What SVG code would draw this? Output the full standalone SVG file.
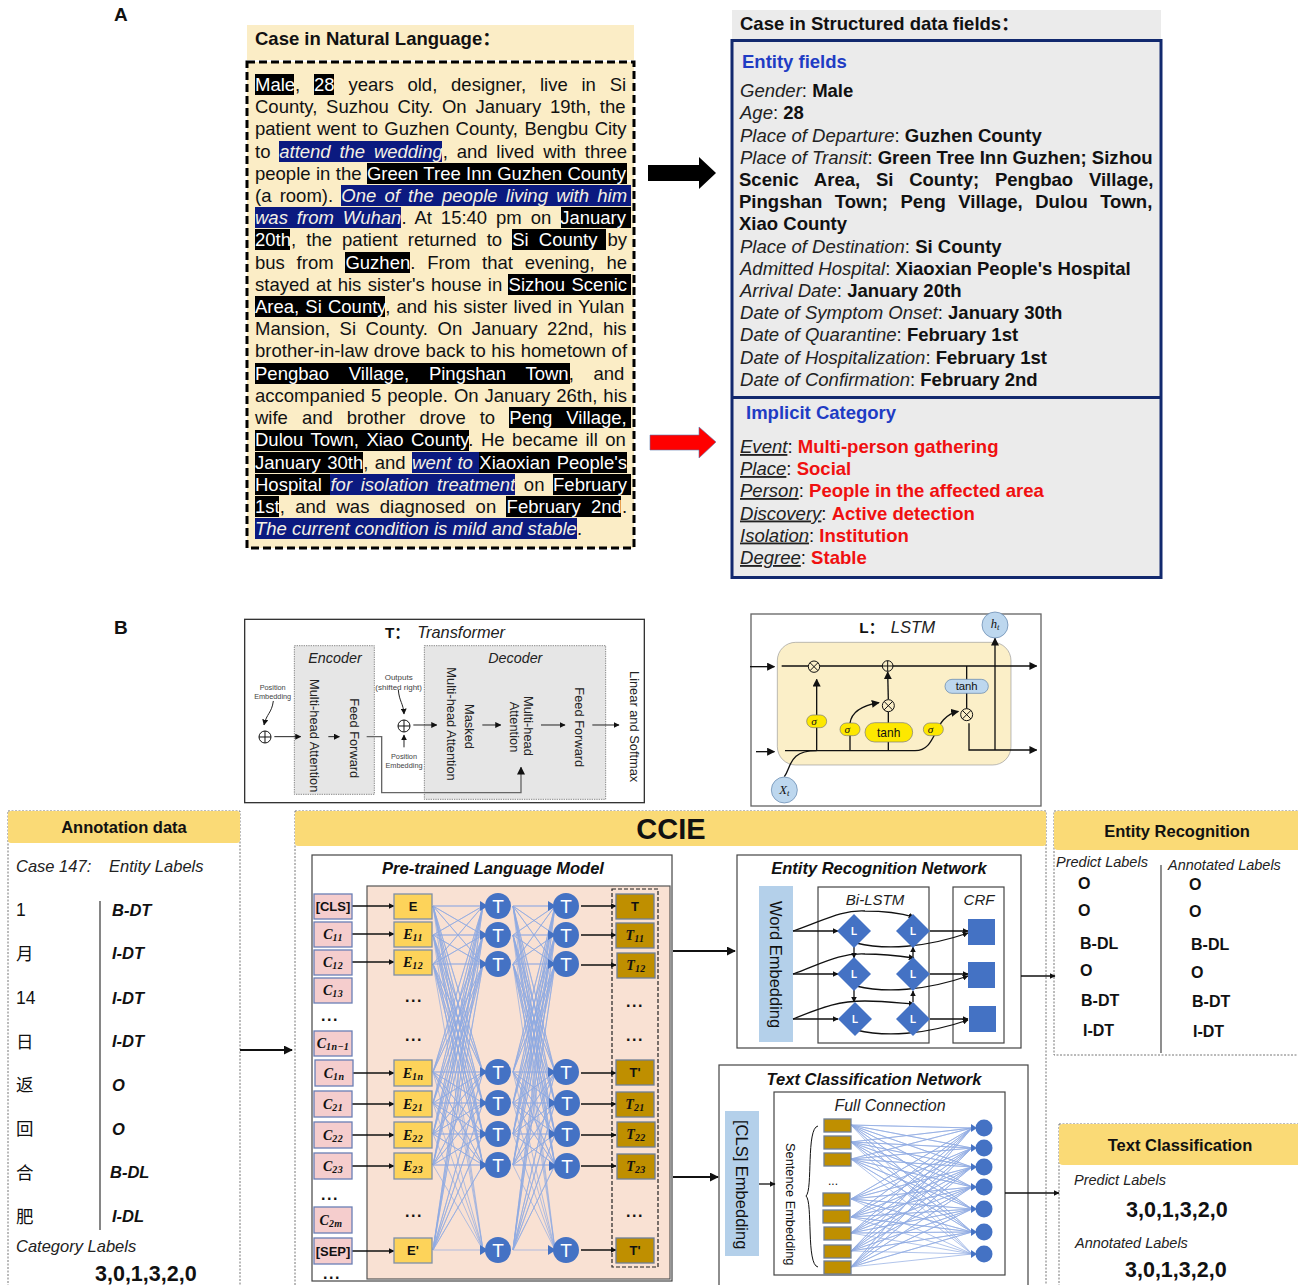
<svg xmlns="http://www.w3.org/2000/svg" width="1298" height="1285" viewBox="0 0 1298 1285">
<style>
text{font-family:"Liberation Sans","Noto Sans CJK SC",sans-serif;fill:#111}
.p{font-size:18.5px}
.w{fill:#fff}
.wi{fill:#f4f0e4;font-style:italic}
.f{font-size:18.55px}
.i{font-style:italic;fill:#222}
.b{font-weight:700}
.r{fill:#f01010;font-weight:700}
.bl{fill:#1f3cc4;font-weight:700;font-size:18.5px}
.hd{font-weight:700;font-size:16.5px;text-anchor:middle}
.tt{font-weight:700;font-style:italic;font-size:16.5px;text-anchor:middle}
.hl{fill:#000}
.hb{fill:#0b1a80}
.hdr{fill:#fada76}
.dash{fill:none;stroke:#777;stroke-width:1;stroke-dasharray:2 1.5}
.box{fill:#fff;stroke:#444;stroke-width:1.2}
.c{fill:#f5cdcd;stroke:#6a7fb5;stroke-width:1.3}
.e{fill:#fdd35a;stroke:#7f8fa8;stroke-width:1.3}
.o{fill:#bf8f00;stroke:#6f7f96;stroke-width:1.3}
.m{font-family:"Liberation Serif",serif;font-weight:700;font-style:italic;font-size:14px;text-anchor:middle}
.s{font-size:10px;baseline-shift:-2px;letter-spacing:.4px}
.n{font-size:13px;font-weight:700;text-anchor:middle}
.dots{font-size:16px;font-weight:700;text-anchor:middle;letter-spacing:1.5px}
.tc{fill:#4472c4}
.tl{fill:#fff;font-size:19px;text-anchor:middle}
.fan{fill:none;stroke:#8fabe2;stroke-width:.7;vector-effect:non-scaling-stroke}
.ln{fill:none;stroke:#111;stroke-width:1.3;marker-end:url(#a)}
.lab{font-size:16.5px;font-weight:700;font-style:italic}
.rl{font-size:16px;font-weight:700}
.pl{font-size:14.5px;font-style:italic;fill:#222}
.num{font-size:21.5px;font-weight:700}
.st{font-size:38.5px;dominant-baseline:central;fill:#222}
.sm{font-size:22px;text-anchor:middle;fill:#444}
.lb{fill:none;stroke:#111;stroke-width:4}
.la{fill:none;stroke:#111;stroke-width:4;marker-end:url(#a2)}
.k{fill:none;stroke:#222;stroke-width:3;marker-end:url(#a2)}
.ye{fill:#fde800;stroke:#777;stroke-width:2}
.blu{fill:#bdd7ee;stroke:#5b7fa8;stroke-width:2}
.dm{fill:#4472c4}
.dl{fill:#fff;font-size:10px;font-weight:700;text-anchor:middle}
.ser{font-family:"Liberation Serif",serif;font-style:italic;text-anchor:middle}
</style>
<defs>
<marker id="a" viewBox="0 0 10 10" refX="9" refY="5" markerWidth="4.500" markerHeight="4.500" orient="auto"><path d="M0 0L10 5L0 10Z" fill="#111"/></marker>
<marker id="a2" viewBox="0 0 10 10" refX="9" refY="5" markerWidth="6" markerHeight="6" orient="auto"><path d="M0 0L10 5L0 10Z" fill="#111"/></marker>
<path id="fan1" class="fan" d="M0 906L50 906 0 906 50 935 0 906 50 964 0 906 50 1072 0 906 50 1103 0 906 50 1134 0 906 50 1165 0 906 50 1250M0 935L50 906 0 935 50 935 0 935 50 964 0 935 50 1072 0 935 50 1103 0 935 50 1134 0 935 50 1165 0 935 50 1250M0 964L50 906 0 964 50 935 0 964 50 964 0 964 50 1072 0 964 50 1103 0 964 50 1134 0 964 50 1165 0 964 50 1250M0 1072L50 906 0 1072 50 935 0 1072 50 964 0 1072 50 1072 0 1072 50 1103 0 1072 50 1134 0 1072 50 1165 0 1072 50 1250M0 1103L50 906 0 1103 50 935 0 1103 50 964 0 1103 50 1072 0 1103 50 1103 0 1103 50 1134 0 1103 50 1165 0 1103 50 1250M0 1134L50 906 0 1134 50 935 0 1134 50 964 0 1134 50 1072 0 1134 50 1103 0 1134 50 1134 0 1134 50 1165 0 1134 50 1250M0 1165L50 906 0 1165 50 935 0 1165 50 964 0 1165 50 1072 0 1165 50 1103 0 1165 50 1134 0 1165 50 1165 0 1165 50 1250M0 1250L50 906 0 1250 50 935 0 1250 50 964 0 1250 50 1072 0 1250 50 1103 0 1250 50 1134 0 1250 50 1165 0 1250 50 1250"/>
</defs>
<rect width="1298" height="1285" fill="#fff"/>

<g id="label-a"><text x="114" y="21" class="b" font-size="19">A</text></g>
<g id="label-b"><text x="114" y="634" class="b" font-size="19">B</text></g>

<g id="natural-language-case">
<rect x="247" y="25" width="387" height="35" fill="#fbedc6"/>
<text x="255" y="45" class="b" font-size="18.5">Case in Natural Language：</text>
<rect x="247" y="62" width="387" height="486" fill="#fbedc6" stroke="#000" stroke-width="3" stroke-dasharray="8 4"/>
<g>
<rect class="hl" x="255" y="74" width="39" height="21"/><rect class="hl" x="314" y="74" width="20" height="21"/>
<rect class="hb" x="279" y="141" width="163" height="21"/>
<rect class="hl" x="367" y="163" width="260" height="21"/>
<rect class="hb" x="341" y="185" width="290" height="21"/>
<rect class="hb" x="255" y="207" width="146" height="21"/><rect class="hl" x="561" y="207" width="70" height="21"/>
<rect class="hl" x="255" y="229" width="35" height="21"/><rect class="hl" x="512" y="229" width="94" height="21"/>
<rect class="hl" x="345" y="252" width="65" height="21"/>
<rect class="hl" x="508" y="274" width="123" height="21"/>
<rect class="hl" x="255" y="296" width="130" height="21"/>
<rect class="hl" x="255" y="363" width="315" height="21"/>
<rect class="hl" x="509" y="407" width="122" height="21"/>
<rect class="hl" x="255" y="430" width="214" height="21"/>
<rect class="hl" x="255" y="452" width="108" height="21"/><rect class="hb" x="412" y="452" width="67" height="21"/><rect class="hl" x="479" y="452" width="148" height="21"/>
<rect class="hl" x="255" y="474" width="75" height="21"/><rect class="hb" x="330" y="474" width="185" height="21"/><rect class="hl" x="553" y="474" width="78" height="21"/>
<rect class="hl" x="255" y="496" width="24" height="21"/><rect class="hl" x="506" y="496" width="115" height="21"/>
<rect class="hb" x="255" y="518" width="322" height="21"/>
</g>
<text class="p" x="255" y="91" word-spacing="8.65"><tspan class="w">Male</tspan>, <tspan class="w">28</tspan> years old, designer, live in Si</text>
<text class="p" x="255" y="113" word-spacing="3.6">County, Suzhou City. On January 19th, the</text>
<text class="p" x="255" y="135" word-spacing="1.3">patient went to Guzhen County, Bengbu City</text>
<text class="p" x="255" y="158" word-spacing="3.63">to <tspan class="wi">attend the wedding</tspan>, and lived with three</text>
<text class="p" x="255" y="180" word-spacing=".26">people in the <tspan class="w">Green Tree Inn Guzhen County</tspan></text>
<text class="p" x="255" y="202" word-spacing="3.06">(a room). <tspan class="wi">One of the people living with him</tspan></text>
<text class="p" x="255" y="224" word-spacing="3.79"><tspan class="wi">was from Wuhan</tspan>. At 15:40 pm on <tspan class="w">January</tspan></text>
<text class="p" x="255" y="246" word-spacing="4.96"><tspan class="w">20th</tspan>, the patient returned to <tspan class="w">Si County</tspan> by</text>
<text class="p" x="255" y="269" word-spacing="6.65">bus from <tspan class="w">Guzhen</tspan>. From that evening, he</text>
<text class="p" x="255" y="291" word-spacing="1.23">stayed at his sister's house in <tspan class="w">Sizhou Scenic</tspan></text>
<text class="p" x="255" y="313" word-spacing="1"><tspan class="w">Area, Si County</tspan>, and his sister lived in Yulan</text>
<text class="p" x="255" y="335" word-spacing="4.4">Mansion, Si County. On January 22nd, his</text>
<text class="p" x="255" y="357" word-spacing=".48">brother-in-law drove back to his hometown of</text>
<text class="p" x="255" y="380" word-spacing="14.6"><tspan class="w">Pengbao Village, Pingshan Town</tspan>, and</text>
<text class="p" x="255" y="402" word-spacing=".81">accompanied 5 people. On January 26th, his</text>
<text class="p" x="255" y="424" word-spacing="8.87">wife and brother drove to <tspan class="w">Peng Village,</tspan></text>
<text class="p" x="255" y="446" word-spacing="2.4"><tspan class="w">Dulou Town, Xiao County</tspan>. He became ill on</text>
<text class="p" x="255" y="469" word-spacing="1.25"><tspan class="w">January 30th</tspan>, and <tspan class="wi">went to</tspan> <tspan class="w">Xiaoxian People's</tspan></text>
<text class="p" x="255" y="491" word-spacing="3.46"><tspan class="w">Hospital</tspan> <tspan class="wi">for isolation treatment</tspan> on <tspan class="w">February</tspan></text>
<text class="p" x="255" y="513" word-spacing="5.27"><tspan class="w">1st</tspan>, and was diagnosed on <tspan class="w">February 2nd</tspan>.</text>
<text class="p" x="255" y="535"><tspan class="wi">The current condition is mild and stable</tspan>.</text>
</g>

<g id="arrow-black"><path d="M648 165H699V157L716 173L699 189V181H648Z" fill="#000"/></g>
<g id="arrow-red"><path d="M650 435H699V427L716 442L699 458V450H650Z" fill="#f00" stroke="#5a7ab0" stroke-width=".6"/></g>

<g id="structured-case">
<rect x="732" y="10" width="429" height="29" fill="#ebebeb"/>
<text x="740" y="30" class="b" font-size="18.5">Case in Structured data fields：</text>
<rect x="732" y="40.500" width="429" height="537" fill="#ebebeb" stroke="#12296e" stroke-width="3"/>
<path d="M732 397.500H1161" stroke="#12296e" stroke-width="3"/>
<text x="742" y="68" class="bl">Entity fields</text>
<text class="f" x="740" y="97"><tspan class="i">Gender</tspan>: <tspan class="b">Male</tspan></text>
<text class="f" x="740" y="119"><tspan class="i">Age</tspan>: <tspan class="b">28</tspan></text>
<text class="f" x="740" y="141.500"><tspan class="i">Place of Departure</tspan>: <tspan class="b">Guzhen County</tspan></text>
<text class="f" x="740" y="163.500"><tspan class="i">Place of Transit</tspan>: <tspan class="b">Green Tree Inn Guzhen; Sizhou</tspan></text>
<text class="f b" x="739" y="186" word-spacing="10.6">Scenic Area, Si County; Pengbao Village,</text>
<text class="f b" x="739" y="208" word-spacing="7.3">Pingshan Town; Peng Village, Dulou Town,</text>
<text class="f b" x="739" y="230">Xiao County</text>
<text class="f" x="740" y="252.500"><tspan class="i">Place of Destination</tspan>: <tspan class="b">Si County</tspan></text>
<text class="f" x="740" y="274.500"><tspan class="i">Admitted Hospital</tspan>: <tspan class="b">Xiaoxian People's Hospital</tspan></text>
<text class="f" x="740" y="297"><tspan class="i">Arrival Date</tspan>: <tspan class="b">January 20th</tspan></text>
<text class="f" x="740" y="319"><tspan class="i">Date of Symptom Onset</tspan>: <tspan class="b">January 30th</tspan></text>
<text class="f" x="740" y="341"><tspan class="i">Date of Quarantine</tspan>: <tspan class="b">February 1st</tspan></text>
<text class="f" x="740" y="363.500"><tspan class="i">Date of Hospitalization</tspan>: <tspan class="b">February 1st</tspan></text>
<text class="f" x="740" y="385.500"><tspan class="i">Date of Confirmation</tspan>: <tspan class="b">February 2nd</tspan></text>
<text x="746" y="419" class="bl">Implicit Category</text>
<text class="f" x="740" y="453"><tspan class="i" text-decoration="underline">Event</tspan>: <tspan class="r">Multi-person gathering</tspan></text>
<text class="f" x="740" y="475"><tspan class="i" text-decoration="underline">Place</tspan>: <tspan class="r">Social</tspan></text>
<text class="f" x="740" y="497"><tspan class="i" text-decoration="underline">Person</tspan>: <tspan class="r">People in the affected area</tspan></text>
<text class="f" x="740" y="519.500"><tspan class="i" text-decoration="underline">Discovery</tspan>: <tspan class="r">Active detection</tspan></text>
<text class="f" x="740" y="541.500"><tspan class="i" text-decoration="underline">Isolation</tspan>: <tspan class="r">Institution</tspan></text>
<text class="f" x="740" y="564"><tspan class="i" text-decoration="underline">Degree</tspan>: <tspan class="r">Stable</tspan></text>
</g>

<g id="transformer" transform="translate(240 610) scale(.33333)">
<rect x="14" y="28" width="1199" height="550" fill="#fff" stroke="#333" stroke-width="4"/>
<text x="435" y="85" font-size="46" class="b">T：</text><text x="532" y="85" font-size="49" class="i">Transformer</text>
<rect x="163" y="107" width="240" height="446" fill="#e6e6e6" stroke="#555" stroke-width="2" stroke-dasharray="4 3"/>
<rect x="553" y="107" width="544" height="461" fill="#e6e6e6" stroke="#555" stroke-width="2" stroke-dasharray="4 3"/>
<text x="285" y="160" font-size="43" class="i" text-anchor="middle">Encoder</text>
<text x="826" y="158" font-size="43" class="i" text-anchor="middle">Decoder</text>
<text class="st" transform="translate(224 207) rotate(90)">Multi-head Attention</text>
<text class="st" transform="translate(343 265) rotate(90)">Feed Forward</text>
<text class="st" transform="translate(636 172) rotate(90)">Multi-head Attention</text>
<text class="st" transform="translate(690 282) rotate(90)">Masked</text>
<text class="st" transform="translate(865 258) rotate(90)">Multi-head</text>
<text class="st" transform="translate(825 275) rotate(90)">Attention</text>
<text class="st" transform="translate(1018 232) rotate(90)">Feed Forward</text>
<text class="st" transform="translate(1183 183) rotate(90)">Linear and Softmax</text>
<text class="sm" x="98" y="240">Position</text><text class="sm" x="98" y="267">Embedding</text>
<text class="sm" x="476" y="210" style="font-size:24px">Outputs</text><text class="sm" x="476" y="240" style="font-size:24px">(shifted right)</text>
<text class="sm" x="492" y="447">Position</text><text class="sm" x="492" y="473">Embedding</text>
<g fill="none" stroke="#111" stroke-width="3"><circle cx="75" cy="381" r="18"/><path d="M57 381H93M75 363V399"/><circle cx="492" cy="348" r="18"/><path d="M474 348H510M492 330V366"/></g>
<path d="M380 380H425V548H843V472" fill="none" stroke="#666" stroke-width="4" marker-end="url(#a2)"/>
<path class="k" d="M103 380H182"/><path class="k" d="M265 380H298"/><path class="k" d="M520 345H590"/><path class="k" d="M727 345H782"/><path class="k" d="M903 345H975"/><path class="k" d="M1057 345H1137"/><path class="k" d="M492 412V375"/><path class="k" d="M100 273C95 310 80 310 72 345"/><path class="k" d="M475 240C478 275 490 280 492 312"/>
</g>

<g id="lstm" transform="translate(745 610) scale(.33333)">
<rect x="18" y="12" width="870" height="576" fill="#fff" stroke="#666" stroke-width="4"/>
<text x="343" y="68" font-size="46" class="b">L：</text><text x="437" y="68" font-size="50" class="i">LSTM</text>
<rect x="97" y="97" width="701" height="368" rx="55" fill="#fbefc8" stroke="#999" stroke-width="2"/>
<path class="la" d="M15 170H88"/><path class="la" d="M110 168H875"/><path class="la" d="M33 425H88"/><path class="la" d="M215 420V208"/><path class="la" d="M672 340V420H875"/><path class="la" d="M750 420V85"/><path class="la" d="M430 268L428 186"/>
<path class="lb" d="M665 168V296M430 420V305M120 422H510"/>
<path class="la" d="M315 420V340C320 300 360 285 402 278"/><path class="la" d="M510 422C580 422 560 320 640 304"/>
<path class="lb" d="M118 500C140 470 130 422 215 422"/>
<g fill="#fbefc8" stroke="#111" stroke-width="3"><circle cx="207" cy="170" r="17"/><path d="M195 158L219 182M219 158L195 182"/><circle cx="428" cy="168" r="16"/><path d="M412 168H444M428 152V184"/><circle cx="430" cy="287" r="18"/><path d="M417 274L443 300M443 274L417 300"/><circle cx="665" cy="314" r="18"/><path d="M652 301L678 327M678 301L652 327"/></g>
<rect class="ye" x="185" y="315" width="60" height="38" rx="19"/><rect class="ye" x="285" y="339" width="60" height="38" rx="19"/><rect class="ye" x="535" y="339" width="60" height="38" rx="19"/>
<rect class="ye" x="360" y="338" width="143" height="58" rx="29"/>
<rect class="blu" x="600" y="208" width="130" height="42" rx="21"/>
<circle class="blu" cx="750" cy="45" r="39"/><circle class="blu" cx="118" cy="540" r="39"/>
<text class="ser" x="207" y="345" font-size="34">σ</text><text class="ser" x="307" y="369" font-size="34">σ</text><text class="ser" x="557" y="369" font-size="34">σ</text>
<text class="ser" x="750" y="54" font-size="38">h<tspan font-size="26" dy="7">t</tspan></text>
<text class="ser" x="118" y="551" font-size="38">X<tspan font-size="26" dy="7">t</tspan></text>
<text x="431" y="380" font-size="36" text-anchor="middle">tanh</text>
<text x="665" y="241" font-size="34" text-anchor="middle">tanh</text>
</g>

<g id="annotation-data">
<rect class="dash" x="8" y="811" width="232" height="480"/>
<rect class="hdr" x="8" y="811" width="232" height="32" rx="3"/>
<text class="hd" x="124" y="833">Annotation data</text>
<text class="i" x="16" y="872" font-size="16.5">Case 147:</text><text class="i" x="109" y="872" font-size="16.5">Entity Labels</text>
<path d="M100 901V1230" stroke="#444" stroke-width="1.3"/>
<text x="16" y="916" font-size="17.5">1</text><text x="16" y="960" font-size="17.5">月</text><text x="16" y="1004" font-size="17.5">14</text><text x="16" y="1048" font-size="17.5">日</text><text x="16" y="1091" font-size="17.5">返</text><text x="16" y="1135" font-size="17.5">回</text><text x="16" y="1179" font-size="17.5">合</text><text x="16" y="1223" font-size="17.5">肥</text>
<text class="lab" x="112" y="916">B-DT</text><text class="lab" x="112" y="959">I-DT</text><text class="lab" x="112" y="1004">I-DT</text><text class="lab" x="112" y="1047">I-DT</text><text class="lab" x="112" y="1091">O</text><text class="lab" x="112" y="1135">O</text><text class="lab" x="110" y="1178">B-DL</text><text class="lab" x="112" y="1222">I-DL</text>
<text class="i" x="16" y="1252" font-size="16.5">Category Labels</text>
<text class="num" x="95" y="1281">3,0,1,3,2,0</text>
</g>

<g id="ccie">
<rect class="dash" x="295" y="811" width="751" height="480"/>
<rect class="hdr" x="295" y="811" width="751" height="35" rx="3"/>
<text x="671" y="839" font-size="29" class="b" text-anchor="middle">CCIE</text>
</g>

<g id="entity-result">
<rect class="dash" x="1054" y="811" width="260" height="244"/>
<rect class="hdr" x="1054" y="811" width="250" height="39" rx="4"/>
<text class="hd" x="1177" y="837">Entity Recognition</text>
<text class="pl" x="1056" y="867">Predict Labels</text><text class="pl" x="1168" y="870">Annotated Labels</text>
<path d="M1161 865V1053" stroke="#444" stroke-width="1.2"/>
<text class="rl" x="1078" y="889">O</text><text class="rl" x="1078" y="916">O</text><text class="rl" x="1080" y="949">B-DL</text><text class="rl" x="1080" y="976">O</text><text class="rl" x="1081" y="1006">B-DT</text><text class="rl" x="1083" y="1036">I-DT</text>
<text class="rl" x="1189" y="890">O</text><text class="rl" x="1189" y="917">O</text><text class="rl" x="1191" y="950">B-DL</text><text class="rl" x="1191" y="978">O</text><text class="rl" x="1192" y="1007">B-DT</text><text class="rl" x="1193" y="1037">I-DT</text>
</g>

<g id="classification-result">
<rect class="dash" x="1059" y="1124" width="260" height="180"/>
<rect class="hdr" x="1059" y="1124" width="250" height="41" rx="4"/>
<text class="hd" x="1180" y="1151">Text Classification</text>
<text class="pl" x="1074" y="1185">Predict Labels</text>
<text class="num" x="1126" y="1217">3,0,1,3,2,0</text>
<text class="pl" x="1075" y="1248">Annotated Labels</text>
<text class="num" x="1125" y="1277">3,0,1,3,2,0</text>
</g>

<g id="language-model-frame">
<rect class="box" x="312" y="855" width="360" height="426"/>
<text class="tt" x="493" y="874">Pre-trained Language Model</text>
<rect x="367" y="886" width="303" height="393" fill="#f9e1d3" stroke="#555" stroke-width="1.2"/>
<rect x="612" y="889" width="46" height="378" fill="none" stroke="#222" stroke-width="1.2" stroke-dasharray="4 2"/>
</g>
<g id="er-frame">
<rect class="box" x="737" y="855" width="284" height="193"/>
<text class="tt" x="879" y="874">Entity Recognition Network</text>
<rect x="759" y="886" width="34" height="156" fill="#b4d0ea"/>
<text font-size="16.5" dominant-baseline="central" transform="translate(776 901) rotate(90)">Word Embedding</text>
<rect class="box" x="818" y="887" width="111" height="156"/>
<text x="875" y="905" font-size="15" class="i" text-anchor="middle">Bi-LSTM</text>
<rect class="box" x="953" y="887" width="51" height="156"/>
<text x="979" y="905" font-size="15" class="i" text-anchor="middle">CRF</text>
</g>
<g id="tc-frame">
<rect class="box" x="719" y="1065" width="309" height="230"/>
<text class="tt" x="874" y="1085">Text Classification Network</text>
<rect x="725" y="1111" width="34" height="145" fill="#b4d0ea"/>
<text font-size="16.5" dominant-baseline="central" transform="translate(742 1120) rotate(90)">[CLS] Embedding</text>
<rect class="box" x="774" y="1092" width="231" height="183"/>
<text x="890" y="1111" font-size="16" class="i" text-anchor="middle">Full Connection</text>
<text font-size="12.800" dominant-baseline="central" transform="translate(790 1143) rotate(90)">Sentence Embedding</text>
<path d="M818 1126C806 1128 813 1190 806 1196C813 1202 806 1265 818 1267" fill="none" stroke="#111" stroke-width="1"/>
<text x="833" y="1185" font-size="12" text-anchor="middle">...</text>
</g>

<g id="connectors">
<use href="#fan1" transform="translate(433 0)"/>
<use href="#fan1" transform="translate(513 0) scale(.84 1)"/>
<path class="fan" d="M851 1125L972 1128 851 1125 972 1148 851 1125 972 1167 851 1125 972 1187 851 1125 972 1209 851 1125 972 1232 851 1125 972 1254M851 1142L972 1128 851 1142 972 1148 851 1142 972 1167 851 1142 972 1187 851 1142 972 1209 851 1142 972 1232 851 1142 972 1254M851 1159L972 1128 851 1159 972 1148 851 1159 972 1167 851 1159 972 1187 851 1159 972 1209 851 1159 972 1232 851 1159 972 1254M851 1199L972 1128 851 1199 972 1148 851 1199 972 1167 851 1199 972 1187 851 1199 972 1209 851 1199 972 1232 851 1199 972 1254M851 1217L972 1128 851 1217 972 1148 851 1217 972 1167 851 1217 972 1187 851 1217 972 1209 851 1217 972 1232 851 1217 972 1254M851 1233L972 1128 851 1233 972 1148 851 1233 972 1167 851 1233 972 1187 851 1233 972 1209 851 1233 972 1232 851 1233 972 1254M851 1251L972 1128 851 1251 972 1148 851 1251 972 1167 851 1251 972 1187 851 1251 972 1209 851 1251 972 1232 851 1251 972 1254M851 1267L972 1128 851 1267 972 1148 851 1267 972 1167 851 1267 972 1187 851 1267 972 1209 851 1267 972 1232 851 1267 972 1254"/>
<path class="ln" d="M352 906H394"/><path class="ln" d="M352 934H394"/><path class="ln" d="M352 962H394"/><path class="ln" d="M352 1073H394"/><path class="ln" d="M352 1104H394"/><path class="ln" d="M352 1135H394"/><path class="ln" d="M352 1166H394"/><path class="ln" d="M352 1251H394"/>
<path class="ln" d="M581 906H616"/><path class="ln" d="M581 935H616"/><path class="ln" d="M581 965H616"/><path class="ln" d="M581 1073H616"/><path class="ln" d="M581 1104H616"/><path class="ln" d="M581 1135H616"/><path class="ln" d="M581 1166H616"/><path class="ln" d="M581 1250H616"/>
<path class="ln" d="M759 1184H775"/><path class="ln" d="M1005 1193H1059"/><path class="ln" d="M1021 976H1055"/>
<path class="ln" style="stroke-width:2" d="M240 1050H292"/><path class="ln" style="stroke-width:2" d="M673 951H735"/><path class="ln" style="stroke-width:2" d="M673 1177H718"/>
<path class="ln" d="M793 931H838"/><path class="ln" d="M793 974H838"/><path class="ln" d="M793 1019H838"/>
<path class="ln" d="M793 931C825 920 840 910 865 911C885 911 900 913 914 917"/>
<path class="ln" d="M793 974C825 962 840 953 865 954C885 954 900 956 914 958"/>
<path class="ln" d="M793 1019C825 1006 840 1001 865 1001C885 1001 900 1003 914 1004"/>
<path class="ln" d="M930 931H968"/><path class="ln" d="M930 974H968"/><path class="ln" d="M930 1019H968"/>
<path class="ln" d="M856 943C885 950 925 948 968 933"/><path class="ln" d="M856 986C885 993 925 991 968 976"/><path class="ln" d="M856 1030C885 1037 925 1035 968 1020"/>
<path class="ln" d="M854 946V958"/><path class="ln" d="M854 990V1002"/><path class="ln" d="M913 958V947"/><path class="ln" d="M913 1002V991"/>
</g>

<g id="c-cls"><rect class="c" x="314" y="894" width="38" height="25"/><text class="n" x="333" y="911">[CLS]</text></g>
<g id="c-11"><rect class="c" x="314" y="922" width="38" height="25"/><text class="m" x="333" y="939">C<tspan class="s">11</tspan></text></g>
<g id="c-12"><rect class="c" x="314" y="950" width="38" height="25"/><text class="m" x="333" y="967">C<tspan class="s">12</tspan></text></g>
<g id="c-13"><rect class="c" x="314" y="978" width="38" height="25"/><text class="m" x="333" y="995">C<tspan class="s">13</tspan></text></g>
<text class="dots" x="330" y="1021">...</text>
<g id="c-1n1"><rect class="c" x="314" y="1031" width="38" height="25"/><text class="m" x="333" y="1048">C<tspan class="s">1n−1</tspan></text></g>
<g id="c-1n"><rect class="c" x="315" y="1060" width="38" height="26"/><text class="m" x="334" y="1078">C<tspan class="s">1n</tspan></text></g>
<g id="c-21"><rect class="c" x="314" y="1091" width="38" height="26"/><text class="m" x="333" y="1109">C<tspan class="s">21</tspan></text></g>
<g id="c-22"><rect class="c" x="314" y="1122" width="38" height="26"/><text class="m" x="333" y="1140">C<tspan class="s">22</tspan></text></g>
<g id="c-23"><rect class="c" x="314" y="1153" width="38" height="26"/><text class="m" x="333" y="1171">C<tspan class="s">23</tspan></text></g>
<text class="dots" x="330" y="1200">...</text>
<g id="c-2m"><rect class="c" x="314" y="1207" width="38" height="26"/><text class="m" x="331" y="1225">C<tspan class="s">2m</tspan></text></g>
<g id="c-sep"><rect class="c" x="314" y="1238" width="38" height="26"/><text class="n" x="333" y="1256">[SEP]</text></g>
<text class="dots" x="332" y="1279">...</text>

<g id="e-0"><rect class="e" x="394" y="894" width="38" height="25"/><text class="n" x="413" y="911">E</text></g>
<g id="e-11"><rect class="e" x="394" y="922" width="38" height="25"/><text class="m" x="413" y="939">E<tspan class="s">11</tspan></text></g>
<g id="e-12"><rect class="e" x="394" y="950" width="38" height="25"/><text class="m" x="413" y="967">E<tspan class="s">12</tspan></text></g>
<text class="dots" x="414" y="1002">...</text><text class="dots" x="414" y="1041">...</text>
<g id="e-1n"><rect class="e" x="394" y="1060" width="38" height="26"/><text class="m" x="413" y="1078">E<tspan class="s">1n</tspan></text></g>
<g id="e-21"><rect class="e" x="394" y="1091" width="38" height="26"/><text class="m" x="413" y="1109">E<tspan class="s">21</tspan></text></g>
<g id="e-22"><rect class="e" x="394" y="1122" width="38" height="26"/><text class="m" x="413" y="1140">E<tspan class="s">22</tspan></text></g>
<g id="e-23"><rect class="e" x="394" y="1153" width="38" height="26"/><text class="m" x="413" y="1171">E<tspan class="s">23</tspan></text></g>
<text class="dots" x="414" y="1217">...</text>
<g id="e-prime"><rect class="e" x="394" y="1238" width="38" height="25"/><text class="n" x="413" y="1255">E'</text></g>

<g id="t-a1"><circle class="tc" cx="498" cy="906" r="13"/><path class="tc" d="M480 901L488 906L480 911Z"/><text class="tl" x="498" y="912.500">T</text></g>
<g id="t-a2"><circle class="tc" cx="498" cy="935" r="13"/><path class="tc" d="M480 930L488 935L480 940Z"/><text class="tl" x="498" y="941.500">T</text></g>
<g id="t-a3"><circle class="tc" cx="498" cy="964" r="13"/><path class="tc" d="M480 959L488 964L480 969Z"/><text class="tl" x="498" y="970.500">T</text></g>
<g id="t-a4"><circle class="tc" cx="498" cy="1072" r="13"/><path class="tc" d="M480 1067L488 1072L480 1077Z"/><text class="tl" x="498" y="1078.500">T</text></g>
<g id="t-a5"><circle class="tc" cx="498" cy="1103" r="13"/><path class="tc" d="M480 1098L488 1103L480 1108Z"/><text class="tl" x="498" y="1109.500">T</text></g>
<g id="t-a6"><circle class="tc" cx="498" cy="1134" r="13"/><path class="tc" d="M480 1129L488 1134L480 1139Z"/><text class="tl" x="498" y="1140.500">T</text></g>
<g id="t-a7"><circle class="tc" cx="498" cy="1165" r="13"/><path class="tc" d="M480 1160L488 1165L480 1170Z"/><text class="tl" x="498" y="1171.500">T</text></g>
<g id="t-a8"><circle class="tc" cx="498" cy="1250" r="13"/><path class="tc" d="M480 1245L488 1250L480 1255Z"/><text class="tl" x="498" y="1256.500">T</text></g>
<g id="t-b1"><circle class="tc" cx="566" cy="906" r="13"/><path class="tc" d="M548 901L556 906L548 911Z"/><text class="tl" x="566" y="912.500">T</text></g>
<g id="t-b2"><circle class="tc" cx="566" cy="935" r="13"/><path class="tc" d="M548 930L556 935L548 940Z"/><text class="tl" x="566" y="941.500">T</text></g>
<g id="t-b3"><circle class="tc" cx="566" cy="964" r="13"/><path class="tc" d="M548 959L556 964L548 969Z"/><text class="tl" x="566" y="970.500">T</text></g>
<g id="t-b4"><circle class="tc" cx="566" cy="1072" r="13"/><path class="tc" d="M548 1067L556 1072L548 1077Z"/><text class="tl" x="566" y="1078.500">T</text></g>
<g id="t-b5"><circle class="tc" cx="567" cy="1103" r="13"/><path class="tc" d="M549 1098L557 1103L549 1108Z"/><text class="tl" x="567" y="1109.500">T</text></g>
<g id="t-b6"><circle class="tc" cx="567" cy="1134" r="13"/><path class="tc" d="M549 1129L557 1134L549 1139Z"/><text class="tl" x="567" y="1140.500">T</text></g>
<g id="t-b7"><circle class="tc" cx="567" cy="1166" r="13"/><path class="tc" d="M549 1161L557 1166L549 1171Z"/><text class="tl" x="567" y="1172.500">T</text></g>
<g id="t-b8"><circle class="tc" cx="566" cy="1250" r="13"/><path class="tc" d="M548 1245L556 1250L548 1255Z"/><text class="tl" x="566" y="1256.500">T</text></g>

<g id="o-0"><rect class="o" x="616" y="894" width="38" height="25"/><text class="n" x="635" y="911">T</text></g>
<g id="o-11"><rect class="o" x="616" y="923" width="38" height="25"/><text class="m" x="635" y="940">T<tspan class="s">11</tspan></text></g>
<g id="o-12"><rect class="o" x="617" y="953" width="38" height="25"/><text class="m" x="636" y="970">T<tspan class="s">12</tspan></text></g>
<text class="dots" x="635" y="1007">...</text><text class="dots" x="635" y="1041">...</text>
<g id="o-1n"><rect class="o" x="616" y="1060" width="38" height="25"/><text class="n" x="635" y="1077">T'</text></g>
<g id="o-21"><rect class="o" x="616" y="1092" width="38" height="25"/><text class="m" x="635" y="1109">T<tspan class="s">21</tspan></text></g>
<g id="o-22"><rect class="o" x="617" y="1122" width="38" height="25"/><text class="m" x="636" y="1139">T<tspan class="s">22</tspan></text></g>
<g id="o-23"><rect class="o" x="617" y="1154" width="38" height="25"/><text class="m" x="636" y="1171">T<tspan class="s">23</tspan></text></g>
<text class="dots" x="635" y="1217">...</text>
<g id="o-prime"><rect class="o" x="616" y="1238" width="38" height="25"/><text class="n" x="635" y="1255">T'</text></g>

<g id="l-1a"><path class="dm" d="M854 914L871 931L854 948L837 931Z"/><text class="dl" x="854" y="934.500">L</text></g>
<g id="l-2a"><path class="dm" d="M854 957L871 974L854 991L837 974Z"/><text class="dl" x="854" y="977.500">L</text></g>
<g id="l-3a"><path class="dm" d="M855 1002L872 1019L855 1036L838 1019Z"/><text class="dl" x="855" y="1022.500">L</text></g>
<g id="l-1b"><path class="dm" d="M913 914L930 931L913 948L896 931Z"/><text class="dl" x="913" y="934.500">L</text></g>
<g id="l-2b"><path class="dm" d="M913 957L930 974L913 991L896 974Z"/><text class="dl" x="913" y="977.500">L</text></g>
<g id="l-3b"><path class="dm" d="M913 1002L930 1019L913 1036L896 1019Z"/><text class="dl" x="913" y="1022.500">L</text></g>
<g id="crf-1"><rect class="dm" x="968" y="919" width="27" height="26"/></g>
<g id="crf-2"><rect class="dm" x="968" y="962" width="27" height="26"/></g>
<g id="crf-3"><rect class="dm" x="969" y="1006" width="27" height="26"/></g>

<g id="fc-left">
<rect class="o" x="824" y="1119" width="27" height="13"/><rect class="o" x="824" y="1136" width="27" height="13"/><rect class="o" x="824" y="1153" width="27" height="13"/><rect class="o" x="823" y="1193" width="27" height="13"/><rect class="o" x="823" y="1210" width="27" height="13"/><rect class="o" x="824" y="1227" width="27" height="13"/><rect class="o" x="824" y="1245" width="27" height="13"/><rect class="o" x="824" y="1261" width="27" height="13"/>
</g>
<g id="fc-right" class="tc">
<circle cx="984" cy="1128" r="8.500"/><circle cx="984" cy="1148" r="8.500"/><circle cx="984" cy="1167" r="8.500"/><circle cx="984" cy="1187" r="8.500"/><circle cx="984" cy="1209" r="8.500"/><circle cx="984" cy="1232" r="8.500"/><circle cx="984" cy="1254" r="8.500"/>
<path d="M971 1124L977 1128L971 1132ZM971 1144L977 1148L971 1152ZM971 1163L977 1167L971 1171ZM971 1183L977 1187L971 1191ZM971 1205L977 1209L971 1213ZM971 1228L977 1232L971 1236ZM971 1250L977 1254L971 1258Z"/>
</g>
</svg>
